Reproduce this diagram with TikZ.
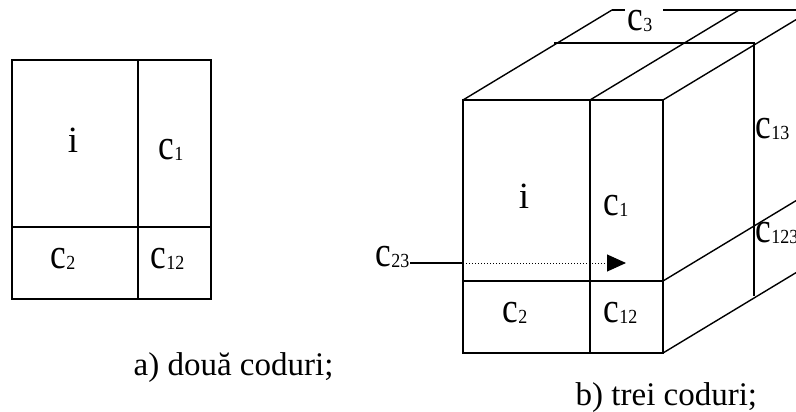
\documentclass[tikz,border=0pt]{standalone}
\usepackage{fontspec}
\setmainfont{Liberation Serif}
\usetikzlibrary{arrows.meta}

% code letter with a small index
\newcommand{\codc}[1]{{\fontsize{43}{43}\selectfont\scalebox{0.82}[1]{c}}\raisebox{-1pt}{\fontsize{20}{20}\selectfont\scalebox{0.9}[1]{#1}}}

\begin{document}
\begin{tikzpicture}[x=1pt, y=-1pt, line width=1.4pt]
        % Styles
        \tikzset{lbl/.style={anchor=base west, inner sep=0pt}}
        \tikzset{info/.style={anchor=base, inner sep=0pt, font=\fontsize{37}{37}\selectfont}}
        \tikzset{caption/.style={anchor=base west, inner sep=0pt, font=\fontsize{33}{33}\selectfont}}

        \useasboundingbox (0,0) rectangle (796,412);
        \clip (0,0) rectangle (796,412);

        % a) two codes
        \draw (12,60) rectangle (211,299);
        \draw (138,60) -- (138,299);
        \draw (12,227) -- (211,227);
        \node[info] (ia) at (73,153) {i};
        \node[lbl] (c1a) at (158,160) {\codc{1}};
        \node[lbl] (c2a) at (50,268) {\codc{2}};
        \node[lbl] (c12a) at (150,268) {\codc{12}};
        \node[caption] (capa) at (133,375) {a) două coduri;};

        % b) three codes, front face
        \draw (463,100) rectangle (663,353);
        \draw (590,100) -- (590,353);
        \draw (463,281) -- (663,281);

        % depth edges
        \draw (463,100) -- (612,10);
        \draw (590,100) -- (739,10);
        \draw (663,100) -- (812,10);
        \draw (663,281) -- (812,191);
        \draw (663,353) -- (812,263);
        \draw (554,43) -- (754,43) -- (754,296);
        \draw (612,10) -- (625,10);
        \draw (663,10) -- (812,10);

        \node[info] (ib) at (524,208) {i};
        \node[lbl] (c1b) at (603,215) {\codc{1}};
        \node[lbl] (c2b) at (502,322) {\codc{2}};
        \node[lbl] (c12b) at (603,322) {\codc{12}};
        \node[lbl] (c3) at (627,31) {\codc{3}};
        \node[lbl] (c13) at (755,139) {\codc{13}};
        \node[lbl] (c123) at (755,242) {\codc{123}};
        \node[lbl] (c23) at (375,266) {\codc{23}};
        \node[caption] (capb) at (575,405) {b) trei coduri;};

        % c23 goes into the cube
        \coordinate (entry) at (463,263);
        \coordinate (tip) at (626,263);
        \draw (c23.east |- entry) -- (entry);
        \draw[dotted, line width=1pt, -{Triangle[length=19pt, width=17pt]}] (entry) -- (tip);
    \end{tikzpicture}
\end{document}
